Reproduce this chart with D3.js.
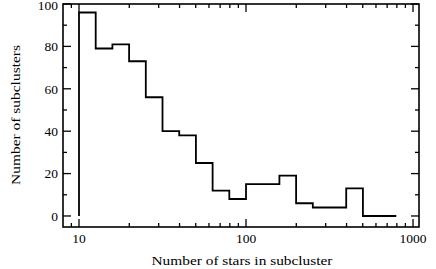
<!DOCTYPE html>
<html>
<head>
<meta charset="utf-8">
<script src="https://cdn.jsdelivr.net/npm/d3@7"></script>
<style>
  body { margin: 0; background: #fff; }
  svg { display: block; }
  text { font-family: "Liberation Serif", "DejaVu Serif", serif; fill: #000; }
</style>
</head>
<body>
<svg id="chart" width="436" height="269"></svg>
<script>
// log bins of 0.1 dex, starting at 10 stars
var binEdgesLog = [1.0, 1.1, 1.2, 1.3, 1.4, 1.5, 1.6, 1.7, 1.8, 1.9, 2.0, 2.1, 2.2, 2.3, 2.4, 2.5, 2.6, 2.7, 2.8, 2.9]
var counts = [96, 79, 81, 73, 56, 40, 38, 25, 12, 8, 15, 15, 19, 6, 4, 4, 13, 0, 0]
var xTickValues = [10, 100, 1000]
var yTickValues = [0, 20, 40, 60, 80, 100]

var svg = d3.select('#chart')
var plotL = 63, plotR = 419, plotT = 4, plotB = 227

var x = d3.scaleLog().domain([8.02, 1086]).range([plotL, plotR])
var y = d3.scaleLinear().domain([-5.2, 100]).range([plotB, plotT])

// minor ticks for log axis
var xMinor = []
for (var d = 1; d <= 100; d *= 10) {
	for (var k = 2; k <= 9; k++) {
		var v = k * d
		if (v >= 8.02 && v <= 1086 && v !== 10 && v !== 100) xMinor.push(v)
	}
}
var yMinor = [10, 30, 50, 70, 90]

var g = svg.append('g')

function tickLines(vals, len, horizontal) {
	vals.forEach(v => {
		if (horizontal) {
			var px = x(v)
			g.append('line').attr('x1', px).attr('x2', px).attr('y1', plotB).attr('y2', plotB - len)
				.attr('stroke', '#000').attr('stroke-width', 1.3)
			g.append('line').attr('x1', px).attr('x2', px).attr('y1', plotT).attr('y2', plotT + len)
				.attr('stroke', '#000').attr('stroke-width', 1.3)
		} else {
			var py = y(v)
			g.append('line').attr('x1', plotL).attr('x2', plotL + len).attr('y1', py).attr('y2', py)
				.attr('stroke', '#000').attr('stroke-width', 1.3)
			g.append('line').attr('x1', plotR).attr('x2', plotR - len).attr('y1', py).attr('y2', py)
				.attr('stroke', '#000').attr('stroke-width', 1.3)
		}
	})
}
tickLines(xTickValues, 8, true)
tickLines(xMinor, 4, true)
tickLines(yTickValues, 8, false)
tickLines(yMinor, 4, false)

// frame
g.append('rect').attr('x', plotL).attr('y', plotT).attr('width', plotR - plotL).attr('height', plotB - plotT)
	.attr('fill', 'none').attr('stroke', '#000').attr('stroke-width', 1.6)

// histogram steps
var pts = [[Math.pow(10, binEdgesLog[0]), 0]]
counts.forEach((c, i) => {
	var x0 = Math.pow(10, binEdgesLog[i])
	var x1 = Math.pow(10, binEdgesLog[i] + 0.1)
	pts.push([x0, c], [x1, c])
})
var line = d3.line().x(d => x(d[0])).y(d => y(d[1]))
g.append('path').attr('d', line(pts)).attr('fill', 'none')
	.attr('stroke', '#000').attr('stroke-width', 1.8)

// labels
xTickValues.forEach(v => {
	g.append('text').attr('x', x(v)).attr('y', 243).attr('text-anchor', 'middle')
		.attr('font-size', 13.5).text(v)
})
yTickValues.forEach(v => {
	// keep the top label inside the page
	g.append('text').attr('x', 58).attr('y', Math.max(y(v) + 4.8, 10)).attr('text-anchor', 'end')
		.attr('font-size', 13.5).text(v)
})

// titles are drawn wide in the original, so stretch them
svg.append('text').attr('x', 151.5).attr('y', 265)
	.attr('font-size', 12).attr('textLength', 181).attr('lengthAdjust', 'spacingAndGlyphs')
	.text('Number of stars in subcluster')
svg.append('text').attr('transform', 'translate(19.5,185) rotate(-90)')
	.attr('font-size', 12).attr('textLength', 140).attr('lengthAdjust', 'spacingAndGlyphs')
	.text('Number of subclusters')
</script>
</body>
</html>
